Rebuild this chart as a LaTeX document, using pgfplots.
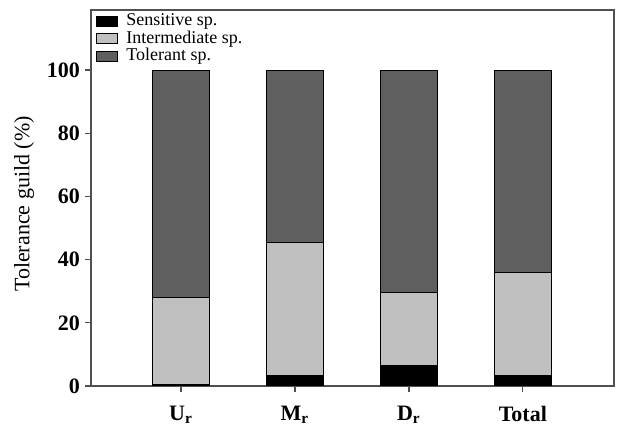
\documentclass[border=0pt]{standalone}
\usepackage{pgfplots}
\pgfplotsset{compat=1.18}
\usepackage{fontspec}
\setmainfont{Liberation Serif}
\definecolor{tolc}{HTML}{5F5F5F}
\definecolor{intc}{HTML}{C0C0C0}
\definecolor{axc}{HTML}{505050}
\begin{document}
\begin{tikzpicture}
\begin{axis}[
  scale only axis,
  width=261.5pt, height=188pt,
  ybar stacked,
  bar width=0.5,
  xmin=-0.79, xmax=3.8,
  ymin=0, ymax=119,
  xtick={0,1,2,3},
  xticklabels={{\textbf{U\textsubscript{r}}},{\textbf{M\textsubscript{r}}},{\textbf{D\textsubscript{r}}},{\textbf{Total}}},
  ytick={0,20,40,60,80,100},
  yticklabels={\textbf{0},\textbf{20},\textbf{40},\textbf{60},\textbf{80},\textbf{100}},
  tick align=outside,
  tick pos=left,
  major tick length=3pt,
  axis line style={axc, line width=0.75pt},
  every tick/.style={axc, line width=0.6pt},
  ticklabel style={font=\fontsize{11}{13}\selectfont},
  xticklabel style={yshift=-3.5pt},
  yticklabel style={xshift=1pt},
  ylabel={Tolerance guild (\%)},
  ylabel style={font=\fontsize{11}{13}\selectfont, at={(axis description cs:-0.128,0.484)}, anchor=center, rotate=0},
  legend style={draw=none, fill=none, at={(axis description cs:0,1)}, anchor=north west,
    xshift=2.5pt, yshift=-1pt,
    font=\fontsize{9}{9}\selectfont, row sep=0pt, column sep=2.5pt, inner sep=0pt,
    nodes={inner ysep=0.3pt, inner xsep=1.5pt, text height=6.3pt, text depth=1.9pt}},
  legend cell align=left,
  legend image code/.code={\draw[#1, line width=0.5pt] (0pt,-2.5pt) rectangle (10.5pt,2.5pt);},
]
\addplot[fill=black, draw=black, line width=0.5pt] coordinates {(0,0.5) (1,3.4) (2,6.6) (3,3.4)};
\addplot[fill=intc, draw=black, line width=0.5pt] coordinates {(0,27.6) (1,42.0) (2,23.0) (3,32.4)};
\addplot[fill=tolc, draw=black, line width=0.5pt] coordinates {(0,71.9) (1,54.6) (2,70.4) (3,64.2)};
\legend{Sensitive sp., Intermediate sp., Tolerant sp.}
\end{axis}
\pgfresetboundingbox
\useasboundingbox ([shift={(-45.5pt,-20pt)}]current axis.south west) rectangle ([shift={(1.5pt,5pt)}]current axis.north east);
\end{tikzpicture}
\end{document}
